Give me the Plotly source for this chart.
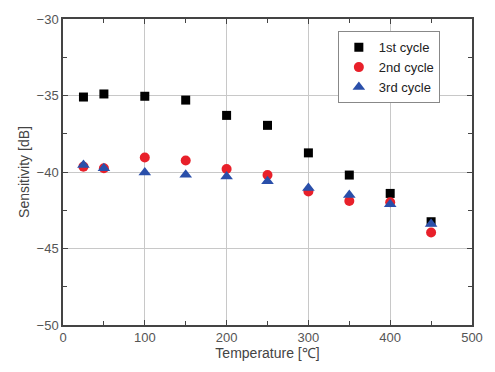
import plotly.graph_objects as go

temps = [25, 50, 100, 150, 200, 250, 300, 350, 400, 450]
cycle1 = [-35.1, -34.9, -35.05, -35.3, -36.3, -36.95, -38.75, -40.2, -41.4, -43.25]
cycle2 = [-39.65, -39.75, -39.05, -39.25, -39.8, -40.2, -41.27, -41.9, -41.98, -43.95]
cycle3 = [-39.55, -39.75, -40.03, -40.18, -40.29, -40.6, -41.04, -41.5, -42.1, -43.4]

fig = go.Figure()
fig.add_trace(go.Scatter(x=temps, y=cycle1, mode="markers", name="1st cycle",
                         marker=dict(symbol="square", size=9, color="black")))
fig.add_trace(go.Scatter(x=temps, y=cycle2, mode="markers", name="2nd cycle",
                         marker=dict(symbol="circle", size=10, color="#e8202a")))
fig.add_trace(go.Scatter(x=temps, y=cycle3, mode="markers", name="3rd cycle",
                         marker=dict(symbol="triangle-up", size=11, color="#2a4faa")))

axis_common = dict(showline=True, linecolor="#444", linewidth=1.5, mirror="ticks",
                   ticks="inside", ticklen=5, tickcolor="#444", showgrid=True,
                   gridcolor="#c8c8c8", gridwidth=1, zeroline=False,
                   tickfont=dict(family="Liberation Sans, Arial", size=13, color="#555"))

fig.update_xaxes(range=[0, 500], dtick=100, title=dict(text="Temperature [℃]",
                 font=dict(family="Liberation Sans, Arial", size=14, color="#444"), standoff=4),
                 minor=dict(dtick=50, ticks="inside", ticklen=4, tickcolor="#444", showgrid=False),
                 **axis_common)
fig.update_yaxes(range=[-50, -30], dtick=5, title=dict(text="Sensitivity [dB]",
                 font=dict(family="Liberation Sans, Arial", size=14, color="#444"), standoff=4),
                 minor=dict(dtick=2.5, ticks="inside", ticklen=4, tickcolor="#444", showgrid=False),
                 tickformat="d", **axis_common)

fig.update_layout(
    width=495, height=372,
    margin=dict(l=63, r=13, t=14, b=47),
    plot_bgcolor="white", paper_bgcolor="white",
    showlegend=True,
    legend=dict(x=0.672, y=0.96, xanchor="left", yanchor="top",
                bgcolor="white", bordercolor="#888", borderwidth=1,
                font=dict(family="Liberation Sans, Arial", size=13, color="#222"),
                tracegroupgap=0, itemwidth=30),
)

fig.write_html("out.html")
